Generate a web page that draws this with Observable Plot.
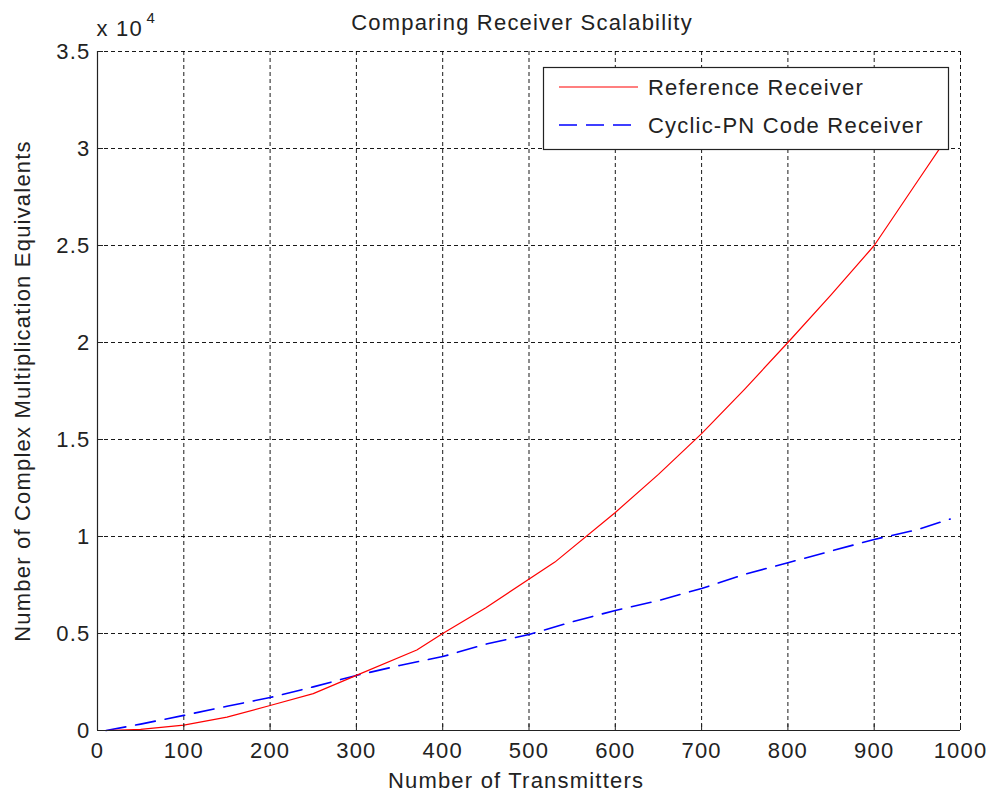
<!DOCTYPE html>
<html>
<head>
<meta charset="utf-8">
<script src="https://cdn.jsdelivr.net/npm/d3@7"></script>
<script src="https://cdn.jsdelivr.net/npm/@observablehq/plot@0.6"></script>
<style>
  html, body { margin: 0; padding: 0; background: #fff; }
  #chart { width: 990px; height: 798px; }
</style>
</head>
<body>
<div id="chart"></div>
<script>
// ---- data ----
const titleText = "Comparing Receiver Scalability";
const xLabelText = "Number of Transmitters";
const yLabelText = "Number of Complex Multiplication Equivalents";
const exponentBase = "x 10";
const exponentPower = "4";
const seriesNames = ["Reference Receiver", "Cyclic-PN Code Receiver"];

const xTicks = [0, 100, 200, 300, 400, 500, 600, 700, 800, 900, 1000];
const yTicks = [0, 5000, 10000, 15000, 20000, 25000, 30000, 35000];
const yTickLabels = ["0", "0.5", "1", "1.5", "2", "2.5", "3", "3.5"];

const refX = [10, 50, 100, 150, 200, 250, 300, 370, 400, 450, 530, 600, 650, 700, 750, 800, 850, 900, 950, 985];
const refY = [0, 60, 280, 690, 1290, 1900, 2840, 4150, 5000, 6330, 8680, 11240, 13200, 15300, 17600, 20000, 22450, 25000, 28300, 30600];

const cycX = [10, 50, 100, 150, 200, 250, 300, 350, 400, 450, 500, 550, 600, 650, 700, 750, 800, 850, 900, 950, 988];
const cycY = [0, 330, 780, 1250, 1700, 2250, 2840, 3350, 3810, 4450, 4950, 5600, 6190, 6700, 7320, 8050, 8650, 9250, 9850, 10350, 10900];

const refData = refX.map((x, i) => ({x, y: refY[i]}));
const cycData = cycX.map((x, i) => ({x, y: cycY[i]}));

const FONT = "'Liberation Sans', Arial, Helvetica, sans-serif";
const gridStyle = {stroke: "#000", strokeOpacity: 0.9, strokeWidth: 1, strokeDasharray: "4,3"};

const chart = Plot.plot({
  width: 990,
  height: 798,
  marginLeft: 97,
  marginRight: 30,
  marginTop: 51,
  marginBottom: 68,
  style: {fontFamily: FONT, fontSize: "22px", color: "#222", background: "#fff", letterSpacing: "1.2px"},
  x: {domain: [0, 1000]},
  y: {domain: [0, 35000]},
  marks: [
    Plot.gridX(xTicks, gridStyle),
    Plot.gridY(yTicks, gridStyle),
    Plot.line(cycData, {x: "x", y: "y", stroke: "#0000ff", strokeWidth: 1.6, strokeDasharray: "20,10"}),
    Plot.line(refData, {x: "x", y: "y", stroke: "#ff0000", strokeWidth: 1.2}),
    Plot.ruleX([0], {stroke: "#222", strokeWidth: 1.2}),
    Plot.ruleY([0], {stroke: "#222", strokeWidth: 1.2}),
    Plot.axisX(xTicks, {tickSize: 6, dy: -6, fill: "none", stroke: "#222", label: null}),
    Plot.axisY(yTicks, {tickSize: 6, dx: 6, fill: "none", stroke: "#222", label: null}),
    Plot.axisX(xTicks, {tickSize: 0, tickPadding: 12, label: null, fill: "#222", tickFormat: d => String(d)}),
    Plot.axisY(yTicks, {tickSize: 0, tickPadding: 7, label: null, fill: "#222",
      tickFormat: d => yTickLabels[yTicks.indexOf(d)]}),
    Plot.text([titleText], {frameAnchor: "top", textAnchor: "middle", lineAnchor: "middle", dy: -29, dx: -7, fill: "#222"}),
    Plot.text([xLabelText], {frameAnchor: "bottom", textAnchor: "middle", lineAnchor: "middle", dy: 50, dx: -13, fill: "#222"}),
    Plot.text([yLabelText], {frameAnchor: "left", textAnchor: "middle", lineAnchor: "middle", rotate: -90, dx: -75, fill: "#222"}),
    Plot.text([exponentBase], {frameAnchor: "top-left", textAnchor: "start", lineAnchor: "middle", dy: -23, dx: -1, fill: "#222"}),
    Plot.text([exponentPower], {frameAnchor: "top-left", textAnchor: "start", lineAnchor: "middle", dy: -33, dx: 49, fontSize: 15, fill: "#222"})
  ]
});

document.getElementById("chart").appendChild(chart);

// ---- legend drawn into the plot's SVG (top-right of the frame) ----
const sx = chart.scale("x"), sy = chart.scale("y");
const frameRight = Math.max(...sx.range), frameTop = Math.min(...sy.range);
const boxW = 405, boxH = 82;
const bx = frameRight - 12 - boxW, by = frameTop + 16;
const svg = d3.select(chart);
const lg = svg.append("g").attr("transform", `translate(${bx},${by})`)
  .attr("font-family", FONT).attr("font-size", 22).attr("text-anchor", "start")
  .style("letter-spacing", "1.2px");
lg.append("rect").attr("x", 0.5).attr("y", 0.5).attr("width", boxW).attr("height", boxH)
  .attr("fill", "#fff").attr("stroke", "#222").attr("stroke-width", 1.2);
const legendStyles = [
  {stroke: "#ff0000", width: 1.2, dash: null},
  {stroke: "#0000ff", width: 1.6, dash: "18,9"}
];
seriesNames.forEach((name, i) => {
  const cy = 20 + i * 38;
  lg.append("line").attr("x1", 16).attr("x2", 95).attr("y1", cy).attr("y2", cy)
    .attr("stroke", legendStyles[i].stroke).attr("stroke-width", legendStyles[i].width)
    .attr("stroke-dasharray", legendStyles[i].dash);
  lg.append("text").attr("x", 105).attr("y", cy).attr("dy", "0.35em").attr("fill", "#222")
    .attr("text-anchor", "start").text(name);
});
</script>
</body>
</html>
